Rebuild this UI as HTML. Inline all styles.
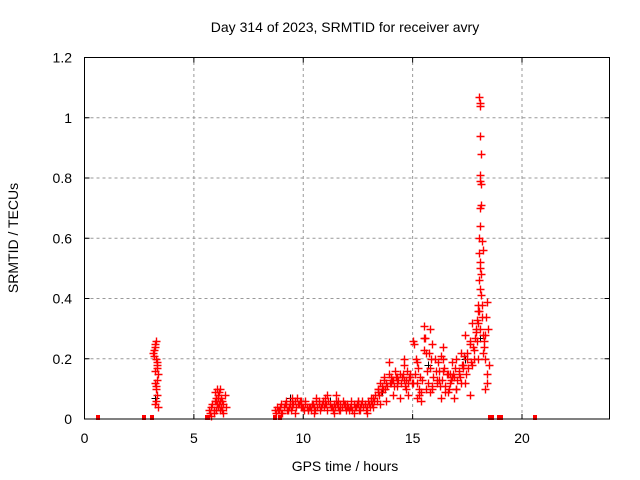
<!DOCTYPE html>
<html><head><meta charset="utf-8"><style>
html,body{margin:0;padding:0;background:#fff;}
svg{display:block;font-family:"Liberation Sans",sans-serif;}
</style></head><body>
<svg id="chart" width="640" height="480" xmlns="http://www.w3.org/2000/svg">
<text x="345" y="32" font-size="14" text-anchor="middle">Day 314 of 2023, SRMTID for receiver avry</text>
<text x="345" y="471" font-size="14" text-anchor="middle">GPS time / hours</text>
<text x="18" y="238" font-size="14" text-anchor="middle" transform="rotate(-90 18 238)">SRMTID / TECUs</text>
<g id="grid"></g>
<g id="ticks"></g>
<g id="marks"></g>
<rect x="84.5" y="57.5" width="525" height="361.5" fill="none" stroke="#000" stroke-width="1"/>
</svg>
<script>
const xTicks=[0,5,10,15,20];
const yTicks=[0,0.2,0.4,0.6,0.8,1,1.2];
const yTickLabels=["0","0.2","0.4","0.6","0.8","1","1.2"];
const zeroTimes=[0.6,2.7,3.1,5.6,5.65,8.7,8.95,18.55,18.65,18.95,19.05,20.6];
const cl1T=[3.15,3.18,3.2,3.22,3.25,3.27,3.3,3.32,3.35,3.2,3.25,3.3,3.28,3.22,3.34,3.18,3.3,3.26,3.24,3.32];
const cl1V=[0.22,0.23,0.24,0.25,0.26,0.2,0.18,0.17,0.15,0.12,0.1,0.08,0.06,0.05,0.04,0.21,0.13,0.11,0.16,0.19];
const cl2T=[5.7,5.75,5.8,5.85,5.9,5.95,6.0,6.05,6.1,6.15,6.2,6.25,6.3,6.35,6.4,6.45,5.8,5.9,6.0,6.1,6.2,6.3,5.95,6.05,6.15,6.25,6.35,6.1,6.2,6.0];
const cl2V=[0.03,0.02,0.04,0.05,0.03,0.06,0.07,0.05,0.08,0.09,0.1,0.07,0.06,0.05,0.08,0.04,0.01,0.02,0.03,0.04,0.06,0.03,0.09,0.1,0.05,0.04,0.02,0.07,0.03,0.06];
const mainT=[8.7,8.8,8.9,9.0,9.1,9.2,9.3,9.4,9.5,9.6,9.7,9.8,9.9,10.0,10.1,10.2,10.3,10.4,10.5,10.6,10.7,10.8,10.9,11.0,11.1,11.2,11.3,11.4,11.5,11.6,11.7,11.8,11.9,12.0,12.1,12.2,12.3,12.4,12.5,12.6,12.7,12.8,12.9,13.0,13.1,13.2,13.3,13.4,13.5,13.6,13.7,13.8,13.9,14.0,14.1,14.2,14.3,14.4,14.5,14.6,14.7,14.8,14.9,15.0,15.1,15.2,15.3,15.4,15.5,15.6,15.7,15.8,15.9,16.0,16.1,16.2,16.3,16.4,16.5,16.6,16.7,16.8,16.9,17.0,17.1,17.2,17.3,17.4,17.5,17.6,17.7,17.8,17.9,18.0,18.2,18.3,18.4,18.5];
const mainV=[0.03,0.04,0.03,0.05,0.04,0.06,0.03,0.05,0.04,0.06,0.07,0.05,0.06,0.04,0.05,0.03,0.04,0.05,0.04,0.06,0.05,0.04,0.06,0.07,0.08,0.05,0.04,0.05,0.06,0.04,0.05,0.06,0.04,0.05,0.03,0.06,0.05,0.04,0.05,0.04,0.06,0.05,0.04,0.05,0.06,0.07,0.08,0.1,0.12,0.11,0.13,0.12,0.15,0.14,0.13,0.16,0.12,0.15,0.14,0.18,0.13,0.12,0.14,0.26,0.15,0.12,0.1,0.09,0.31,0.22,0.12,0.3,0.1,0.2,0.13,0.16,0.07,0.24,0.11,0.15,0.12,0.19,0.14,0.2,0.16,0.22,0.17,0.28,0.2,0.25,0.32,0.23,0.3,0.36,0.22,0.28,0.39,0.18];
const lowT=[9.0,9.3,9.6,9.9,10.2,10.5,10.8,11.1,11.4,11.7,12.0,12.3,12.6,12.9,13.2,13.5,13.8,14.1,14.4,14.7,15.0,15.3,15.6,15.9,16.2,16.5,16.8,17.1,17.4,17.7,18.0,18.3,9.5,10.6,11.5,12.5,13.4,14.6,15.2,15.8,16.4,17.0,17.6,18.4,13.9,15.5,16.9,14.3];
const lowV=[0.02,0.03,0.02,0.04,0.03,0.02,0.04,0.03,0.02,0.03,0.04,0.02,0.03,0.02,0.04,0.05,0.06,0.08,0.07,0.1,0.12,0.08,0.1,0.11,0.13,0.09,0.14,0.15,0.12,0.18,0.2,0.1,0.07,0.07,0.08,0.06,0.09,0.2,0.07,0.09,0.16,0.1,0.08,0.12,0.19,0.27,0.07,0.11];
const denseT=[8.75,8.85,8.95,9.05,9.15,9.25,9.35,9.45,9.55,9.65,9.75,9.85,9.95,10.05,10.15,10.25,10.35,10.45,10.55,10.65,10.75,10.85,10.95,11.05,11.15,11.25,11.35,11.45,11.55,11.65,11.75,11.85,11.95,12.05,12.15,12.25,12.35,12.45,12.55,12.65,12.75,12.85,12.95,13.05,13.15,13.25,13.35,13.45,13.55,13.65,13.75,13.85,13.95,14.05,14.15,14.25,14.35,14.45,14.55,14.65,14.75,14.85,14.95,15.05,15.15,15.25,15.35,15.45,15.55,15.65,15.75,15.85,15.95,16.05,16.15,16.25,16.35,16.45,16.55,16.65,16.75,16.85,16.95,17.05,17.15,17.25,17.35,17.45,17.55,17.65,17.75,17.85,17.95,18.25,18.35,18.45];
const denseV=[0.02,0.03,0.04,0.02,0.05,0.03,0.04,0.03,0.05,0.04,0.05,0.06,0.04,0.03,0.04,0.04,0.03,0.05,0.03,0.04,0.03,0.05,0.04,0.05,0.06,0.04,0.03,0.04,0.05,0.03,0.04,0.05,0.03,0.04,0.04,0.03,0.04,0.05,0.03,0.05,0.04,0.03,0.06,0.04,0.05,0.06,0.06,0.08,0.09,0.1,0.1,0.11,0.12,0.13,0.11,0.14,0.13,0.12,0.15,0.11,0.16,0.14,0.12,0.25,0.2,0.17,0.14,0.13,0.27,0.16,0.22,0.2,0.14,0.16,0.19,0.11,0.13,0.17,0.15,0.1,0.13,0.15,0.17,0.13,0.14,0.18,0.21,0.15,0.17,0.19,0.24,0.27,0.33,0.26,0.34,0.3];
const dense2T=[9.2,9.5,9.8,10.1,10.4,10.7,11.0,11.3,11.6,11.9,12.2,12.5,12.8,13.1,13.4,13.7,14.0,14.3,14.6,14.9,15.2,15.5,15.8,16.1,16.4,16.7,17.0,17.3,17.6,17.9,18.3,15.4,15.9,16.6,17.2,17.8,14.8,16.3,17.5,18.4];
const dense2V=[0.05,0.06,0.05,0.06,0.05,0.06,0.05,0.04,0.06,0.05,0.04,0.06,0.05,0.07,0.1,0.14,0.12,0.14,0.13,0.15,0.19,0.23,0.17,0.12,0.2,0.15,0.1,0.18,0.26,0.29,0.2,0.06,0.25,0.09,0.12,0.2,0.08,0.21,0.22,0.15];
const spikeT=[18.05,18.08,18.1,18.07,18.12,18.06,18.1,18.11,18.13,18.07,18.09,18.04,18.15,18.2,18.03,18.1,18.06,18.14,18.02,18.08,18.12,18.0,18.16,18.05,18.18,17.98,18.1,18.22,17.95,18.25];
const spikeV=[1.07,1.05,1.04,0.94,0.88,0.81,0.79,0.78,0.71,0.7,0.64,0.6,0.59,0.56,0.55,0.52,0.5,0.48,0.46,0.43,0.41,0.38,0.38,0.36,0.34,0.32,0.3,0.28,0.26,0.24];
const blackT=[3.2,9.4,11.2,13.6,15.7,17.4,18.1];
const blackV=[0.07,0.07,0.06,0.09,0.18,0.2,0.27];

const X0=84.5,X1=609.5,Y0=419,Y1=57.5;
function sx(v){return X0+(v/24)*(X1-X0);}
function sy(v){return Y0-(v/1.2)*(Y0-Y1);}
const NS="http://www.w3.org/2000/svg";
const grid=document.getElementById('grid'),ticks=document.getElementById('ticks'),marks=document.getElementById('marks');
function mk(tag,attrs,parent){const e=document.createElementNS(NS,tag);for(const k in attrs)e.setAttribute(k,attrs[k]);parent.appendChild(e);return e;}
xTicks.forEach(t=>{
  const x=sx(t);
  if(t>0){const g=mk('line',{x1:x,x2:x,y1:Y0,y2:Y1,stroke:'#999','stroke-dasharray':'3,3'},grid);
  
  }
  mk('line',{x1:x,x2:x,y1:Y0,y2:Y0-5,stroke:'#000'},ticks);
  mk('line',{x1:x,x2:x,y1:Y1,y2:Y1+5,stroke:'#000'},ticks);
  const l=mk('text',{x:x,y:443,'font-size':14,'text-anchor':'middle'},ticks);l.textContent=t;
  
  
});
yTicks.forEach((t,i)=>{
  const y=sy(t);
  if(t>0&&t<1.2){const g=mk('line',{x1:X0,x2:X1,y1:y,y2:y,stroke:'#999','stroke-dasharray':'3,3'},grid);
  
  }
  mk('line',{x1:X0,x2:X0+5,y1:y,y2:y,stroke:'#000'},ticks);
  mk('line',{x1:X1,x2:X1-5,y1:y,y2:y,stroke:'#000'},ticks);
  const l=mk('text',{x:72,y:y+5,'font-size':14,'text-anchor':'end'},ticks);l.textContent=yTickLabels[i];
  
  
});
function plus(t,v,col,w){
  const x=Math.round(sx(t))+0.5,y=Math.round(Math.min(sy(v),Y0-1))+0.5;
  const p=mk('path',{d:`M${x-4} ${y}H${x+4}M${x} ${y-4}V${y+4}`,stroke:col,'stroke-width':w,fill:'none'},marks);
  
  
}
blackT.forEach((t,i)=>plus(t,blackV[i],'#000',1));
zeroTimes.forEach(t=>{
  const r=mk('rect',{x:Math.round(sx(t))-2,y:Y0-4,width:4,height:5,fill:'red'},marks);
  
  
});
[[cl1T,cl1V],[cl2T,cl2V],[mainT,mainV],[lowT,lowV],[denseT,denseV],[dense2T,dense2V],[spikeT,spikeV]].forEach(([T,V])=>T.forEach((t,i)=>plus(t,V[i],'red',1.4)));
</script>
</body></html>
